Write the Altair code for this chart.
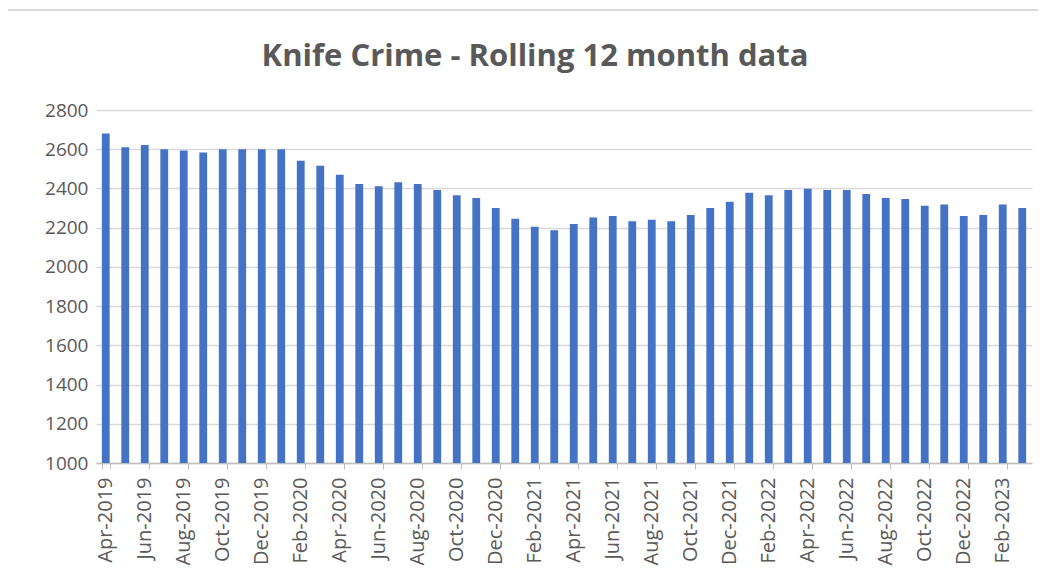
import altair as alt
import pandas as pd

months = [
    "Apr-2019", "May-2019", "Jun-2019", "Jul-2019", "Aug-2019", "Sep-2019",
    "Oct-2019", "Nov-2019", "Dec-2019", "Jan-2020", "Feb-2020", "Mar-2020",
    "Apr-2020", "May-2020", "Jun-2020", "Jul-2020", "Aug-2020", "Sep-2020",
    "Oct-2020", "Nov-2020", "Dec-2020", "Jan-2021", "Feb-2021", "Mar-2021",
    "Apr-2021", "May-2021", "Jun-2021", "Jul-2021", "Aug-2021", "Sep-2021",
    "Oct-2021", "Nov-2021", "Dec-2021", "Jan-2022", "Feb-2022", "Mar-2022",
    "Apr-2022", "May-2022", "Jun-2022", "Jul-2022", "Aug-2022", "Sep-2022",
    "Oct-2022", "Nov-2022", "Dec-2022", "Jan-2023", "Feb-2023", "Mar-2023",
]
values = [
    2680, 2610, 2622, 2600, 2593, 2583, 2600, 2600, 2600, 2600, 2541, 2516,
    2470, 2423, 2411, 2431, 2423, 2392, 2365, 2351, 2300, 2246, 2205, 2187,
    2219, 2252, 2259, 2233, 2240, 2233, 2265, 2300, 2332, 2378, 2365, 2392,
    2399, 2392, 2392, 2372, 2351, 2346, 2312, 2318, 2259, 2265, 2318, 2300,
]
y_ticks = [1000, 1200, 1400, 1600, 1800, 2000, 2200, 2400, 2600, 2800]
x_label_months = months[::2]
title_text = ["Knife Crime - Rolling 12 month data"]

df = pd.DataFrame({"month": months, "value": values})
title_df = pd.DataFrame({"t": title_text})

W, H = 936, 353
FONT = "Open Sans"
GREY = "#595959"

bars = alt.Chart(df).mark_bar(color="#4472C4", clip=True).encode(
    x=alt.X(
        "month:N",
        sort=months,
        scale=alt.Scale(paddingInner=0.6, paddingOuter=0.3),
        axis=alt.Axis(
            title=None,
            values=x_label_months,
            labelAngle=-90,
            labelAlign="right",
            labelBaseline="middle",
            labelFont=FONT,
            labelFontSize=20,
            labelColor=GREY,
            labelPadding=8,
            tickSize=6,
            tickColor="#bfbfbf",
            tickBand="extent",
            domainColor="#bfbfbf",
            domainWidth=1.5,
            grid=False,
            labelOverlap=False,
        ),
    ),
    y=alt.Y(
        "value:Q",
        scale=alt.Scale(domain=[1000, 2800], nice=False, zero=False),
        axis=alt.Axis(
            title=None,
            values=y_ticks,
            format="d",
            domain=False,
            ticks=False,
            labelFont=FONT,
            labelFontSize=19,
            labelColor=GREY,
            labelPadding=8,
            gridColor="#d9d9d9",
            gridWidth=1.5,
        ),
    ),
)

border_top = alt.Chart(title_df).mark_rule(color="#d9d9d9", strokeWidth=2).encode(
    x=alt.value(-89), x2=alt.value(W + 40), y=alt.value(-100)
)
border_left = alt.Chart(title_df).mark_rule(color="#d9d9d9", strokeWidth=2).encode(
    x=alt.value(-89), y=alt.value(-100), y2=alt.value(H + 140)
)
title = alt.Chart(title_df).mark_text(
    font=FONT, fontSize=31, fontWeight="bold", color=GREY,
    align="center", baseline="alphabetic",
).encode(text="t:N", x=alt.value(535 - 96), y=alt.value(66 - 110))

chart = alt.layer(border_top, border_left, title, bars).properties(
    width=W,
    height=H,
    autosize=alt.AutoSizeParams(type="none"),
    padding={"left": 88, "top": 102, "right": 6, "bottom": 105},
).configure_view(stroke=None)

chart.save("out.html", embed_options={"renderer": "svg", "actions": False})
